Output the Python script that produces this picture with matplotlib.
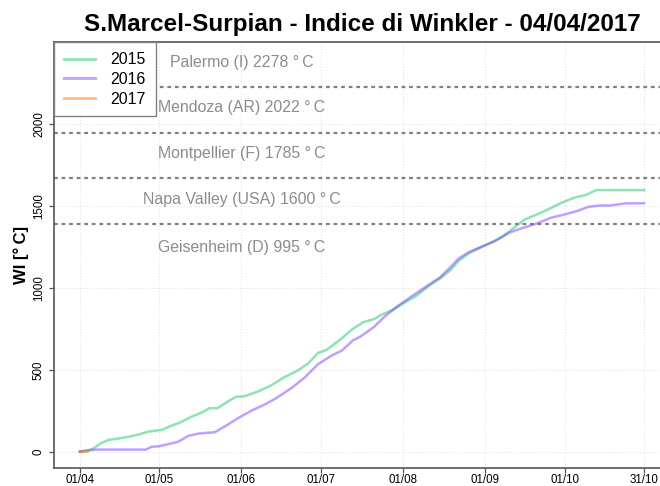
import matplotlib
matplotlib.use("Agg")
import matplotlib.pyplot as plt

plt.rcParams['font.family'] = ['Liberation Sans', 'DejaVu Sans']

# giorni dal 01/04 e indice di Winkler cumulato
days_2015 = [0, 3, 5, 8, 11, 14, 17, 20, 23, 26, 29, 31, 34, 38, 42, 46, 49, 52, 55, 59,
             62, 67, 72, 77, 82, 86, 90, 93, 98, 103, 107, 111, 114, 118, 122, 127, 132,
             136, 140, 143, 147, 152, 156, 160, 164, 168, 172, 177, 182, 187, 191, 195, 213]
wi_2015 = [4, 12, 22, 55, 76, 82, 90, 100, 112, 126, 132, 136, 158, 182, 215, 242, 268, 268,
           300, 338, 340, 368, 405, 455, 495, 538, 605, 622, 682, 750, 792, 810, 838, 866,
           905, 952, 1015, 1058, 1110, 1165, 1212, 1253, 1282, 1318, 1368, 1418, 1444, 1480,
           1520, 1552, 1566, 1596, 1596]

days_2016 = [0, 3, 6, 25, 27, 30, 33, 37, 41, 45, 51, 55, 60, 65, 70, 74, 80, 85, 90, 95, 99,
             103, 106, 111, 115, 120, 125, 131, 136, 140, 143, 147, 152, 157, 162, 167, 172,
             178, 184, 188, 192, 196, 200, 206, 213]
wi_2016 = [4, 10, 16, 16, 33, 37, 48, 63, 100, 114, 122, 160, 210, 255, 292, 328, 392, 457,
           537, 588, 620, 680, 705, 762, 825, 890, 946, 1012, 1065, 1128, 1180, 1220, 1253,
           1288, 1336, 1365, 1390, 1428, 1452, 1470, 1494, 1502, 1502, 1515, 1516]

days_2017 = [0, 1, 2, 3]
wi_2017 = [2, 3, 4, 5]

# soglie delle regioni di Winkler e riferimenti
soglie = [1389, 1667, 1944, 2222]
rif_nomi = ['Geisenheim (D) 995 °\u2009C', 'Napa Valley (USA) 1600 °\u2009C',
            'Montpellier (F) 1785 °\u2009C', 'Mendoza (AR) 2022 °\u2009C',
            'Palermo (I) 2278 °\u2009C']
rif_y = [1245, 1540, 1820, 2100, 2370]

tick_days = [0, 30, 61, 91, 122, 153, 183, 213]
tick_lab = ['01/04', '01/05', '01/06', '01/07', '01/08', '01/09', '01/10', '31/10']

fig = plt.figure(figsize=(6.6, 4.86), dpi=100)
W, H = 660.0, 486.0
ax = fig.add_axes([54 / W, 18 / H, 698 / W, 425.7 / H])

ax.set_xlim(-9.76, 253.76)
ax.set_ylim(-96, 2496)

ax.set_xticks(tick_days)
ax.set_xticklabels(tick_lab)
ax.set_yticks([0, 500, 1000, 1500, 2000])
ax.grid(True, color='#e4e4e4', linestyle=':', linewidth=0.8)
ax.set_axisbelow(True)

for y in soglie:
    ax.axhline(y, color='#808080', linewidth=1.6, linestyle=(0, (1.7, 1.7)), zorder=2)
for nome, y in zip(rif_nomi, rif_y):
    ax.text(61, y, nome, color='#8c8c8c', fontsize=11.4, ha='center', va='center')

ax.plot(days_2015, wi_2015, color='#1cc86a', alpha=0.5, linewidth=1.8, label='2015', zorder=3)
ax.plot(days_2016, wi_2016, color='#8040ff', alpha=0.5, linewidth=1.8, label='2016', zorder=3)
ax.plot(days_2017, wi_2017, color='#ff7f00', alpha=0.5, linewidth=1.8, label='2017', zorder=3)

for s in ['left', 'bottom', 'top', 'right']:
    ax.spines[s].set_color('#555555')
    ax.spines[s].set_linewidth(1.2)

ax.tick_params(axis='both', length=3.5, width=0.9, color='#555555', labelsize=8.3)
ax.tick_params(axis='y', pad=3)
for lab in ax.get_yticklabels():
    lab.set_rotation(90)
    lab.set_va('center')
ax.tick_params(axis='x', pad=0.5)

ax.set_ylabel('WI [°\u2009C]', fontsize=12, fontweight='bold', labelpad=3)

leg = ax.legend(loc='upper left', bbox_to_anchor=(0, 1), borderaxespad=0, fancybox=False,
                framealpha=1, edgecolor='#808080', fontsize=11.4, handlelength=2.0,
                handletextpad=0.95, labelspacing=0.3, borderpad=0.62)
leg.get_frame().set_linewidth(1.0)
for line in leg.get_lines():
    line.set_linewidth(2.0)

fig.text(362 / W, 1 - 24 / H, 'S.Marcel-Surpian - Indice di Winkler - 04/04/2017',
         fontsize=17.5, fontweight='bold', ha='center', va='center')

fig.savefig('out.png', dpi=100)
